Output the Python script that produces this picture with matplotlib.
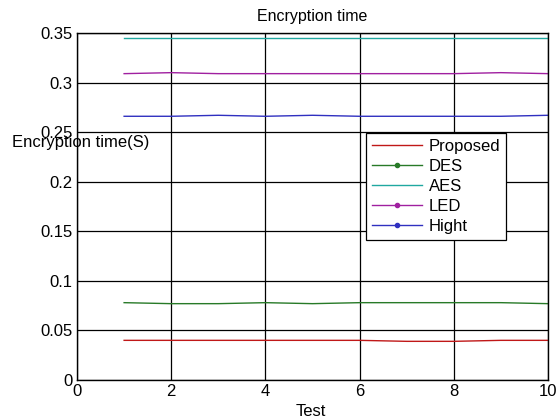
import matplotlib
matplotlib.use("Agg")
import matplotlib.pyplot as plt
from matplotlib.lines import Line2D

plt.rcParams["font.family"] = ["Liberation Sans", "DejaVu Sans"]

tests = [1, 2, 3, 4, 5, 6, 7, 8, 9, 10]
proposed = [0.040, 0.040, 0.040, 0.040, 0.040, 0.040, 0.039, 0.039, 0.040, 0.040]
des = [0.078, 0.077, 0.077, 0.078, 0.077, 0.078, 0.078, 0.078, 0.078, 0.077]
aes = [0.345, 0.345, 0.345, 0.345, 0.345, 0.345, 0.345, 0.345, 0.345, 0.345]
led = [0.309, 0.310, 0.309, 0.309, 0.309, 0.309, 0.309, 0.309, 0.310, 0.309]
hight = [0.266, 0.266, 0.267, 0.266, 0.267, 0.266, 0.266, 0.266, 0.266, 0.267]

names = ["Proposed", "DES", "AES", "LED", "Hight"]
colors = ["#c01818", "#287a28", "#20a8a0", "#a020a0", "#3030c0"]
legend_marker = [False, True, False, True, True]

fig = plt.figure(figsize=(5.57, 4.19), dpi=100)
ax = fig.add_axes([77/557, 1-380/419, (548-77)/557, (380-33)/419])

for vals, c in zip([proposed, des, aes, led, hight], colors):
    ax.plot(tests, vals, color=c, lw=1.0)

ax.set_xlim(0, 10)
ax.set_ylim(0, 0.35)
ax.set_xticks([0, 2, 4, 6, 8, 10])
ax.set_yticks([0, 0.05, 0.1, 0.15, 0.2, 0.25, 0.3, 0.35])
ax.set_yticklabels(["0", "0.05", "0.1", "0.15", "0.2", "0.25", "0.3", "0.35"])
ax.grid(True, color="black", lw=0.9)
ax.tick_params(labelsize=12, length=0, pad=3)
for s in ax.spines.values():
    s.set_linewidth(1.0)

fig.text(312/557, 1-17/419, "Encryption time", fontsize=11.5, ha="center", va="center")
fig.text(311/557, 1-411/419, "Test", fontsize=12, ha="center", va="center")
fig.text(12/557, 1-143/419, "Encryption time(S)", fontsize=12, va="center", ha="left")

handles = [Line2D([], [], color=c, lw=1.0, marker="o" if m else None, markersize=3)
           for c, m in zip(colors, legend_marker)]
leg = ax.legend(handles, names, loc="upper left", bbox_to_anchor=(0.6136, 0.712),
                fontsize=12, fancybox=False, framealpha=1, edgecolor="black",
                borderpad=0.35, labelspacing=0.3, handlelength=3.0, handletextpad=0.4,
                borderaxespad=0)
leg.get_frame().set_linewidth(0.9)

fig.savefig("out.png", dpi=100)
